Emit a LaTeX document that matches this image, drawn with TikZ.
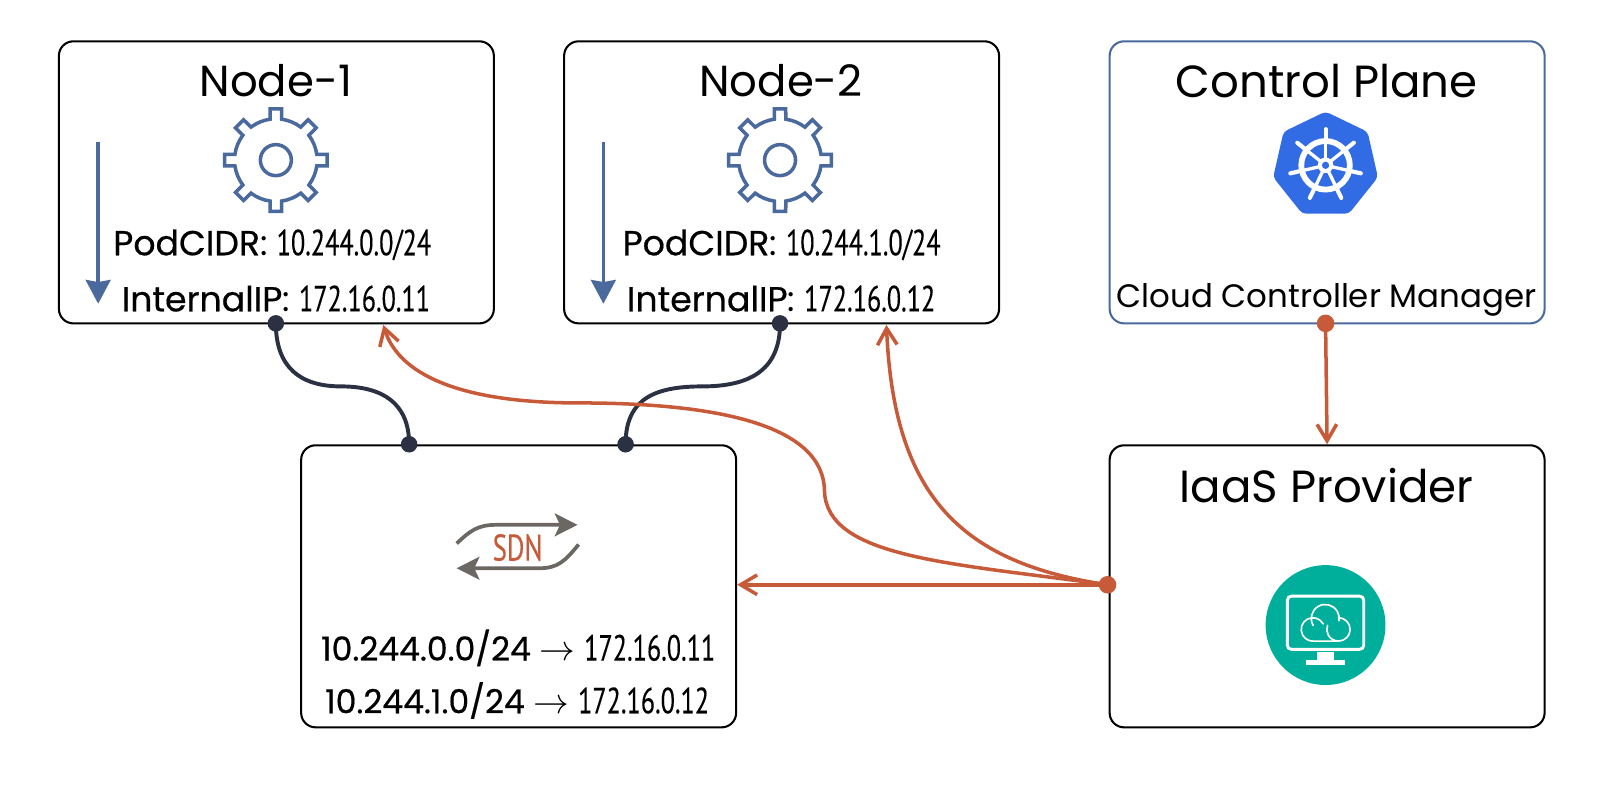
\documentclass[tikz,border=0pt]{standalone}
\usepackage{fontspec}
\usetikzlibrary{arrows.meta,calc}
\setmainfont{Poppins}
\newfontfamily\titlefont{Poppins}
\newfontfamily\medfont[FakeBold=0.5]{Poppins}
\newfontfamily\numfont[FakeStretch=0.72,FakeBold=0.2]{PT Sans}
\definecolor{boxblue}{HTML}{4A6A9D}
\definecolor{rust}{HTML}{C75B39}
\definecolor{ink}{HTML}{2B3142}
\definecolor{kube}{HTML}{326CE5}
\definecolor{teal}{HTML}{00AF9B}
\definecolor{sdngray}{HTML}{6B6864}
\newcommand{\numsize}{\fontsize{17.6}{19}\selectfont}
\tikzset{
  panel/.style={draw=black,line width=1pt,rounded corners=7pt,fill=white,minimum width=210.5pt,minimum height=136.5pt,inner sep=0pt},
  darkdot/.style={circle,fill=ink,minimum size=8pt,inner sep=0pt},
  rustdot/.style={circle,fill=rust,minimum size=8.5pt,inner sep=0pt},
  title/.style={font=\titlefont\fontsize{21.8}{26}\selectfont,inner sep=0pt},
  nodetitle/.style={font=\titlefont\fontsize{21}{26}\selectfont,inner sep=0pt},
  info/.style={inner sep=0pt,font=\fontsize{16.8}{19}\selectfont},
  route/.style={inner sep=0pt,font=\fontsize{16}{19}\selectfont},
  darkline/.style={draw=ink,line width=1.9pt},
  rustline/.style={draw=rust,line width=1.7pt},
  rustarrow/.style={rustline,-{Straight Barb[length=8pt,width=9.5pt,line width=1.7pt]}},
  gearline/.style={draw=boxblue,line width=1.7pt,line join=miter},
  grayarrow/.style={draw=sdngray,line width=1.8pt,-{Stealth[length=11pt,width=11pt,inset=2.5pt]}}
}
\newcommand{\gearicon}[2]{%
  \begin{scope}[shift={(#1,#2)}]
    \draw[gearline]
      (-8:40)
      \foreach \a in {0,45,...,315}{
        -- ({\a-8}:40) -- ({\a-6.3}:50) -- ({\a+6.3}:50) -- ({\a+8}:40)
        arc[start angle={\a+8},end angle={\a+37},radius=40]
      } -- cycle;
    \draw[gearline] (0,0) circle[radius=15];
  \end{scope}}
\begin{document}
\begin{tikzpicture}[x=0.5pt,y=-0.5pt]
\useasboundingbox (0,0) rectangle (1568,780);
% panels
\node[panel] (n1) at (267.5,176.5) {};
\node[panel] (n2) at (756.5,176.5) {};
\node[panel,draw=boxblue] (cp) at (1284.5,176.5) {};
\node[panel] (sdn) at (502,567.5) {};
\node[panel] (iaas) at (1284.5,567.5) {};
% titles
\node[nodetitle] (t1) at (267,78) {Node-1};
\node[nodetitle] (t2) at (756,78) {Node-2};
\node[title] (t3) at (1284,78) {Control Plane};
\node[title] (t4) at (1284,470) {IaaS Provider};
\node[inner sep=0pt,font=\fontsize{15.7}{19}\selectfont] (ccm) at (1284,290) {Cloud Controller Manager};
% node info
\node[info] (p1) at (263.5,237) {{\medfont PodCIDR}: {\numfont\numsize 10.244.0.0/24}};
\node[info] (i1) at (267,289) {{\medfont InternalIP}: {\numfont\numsize 172.16.0.11}};
\node[info] (p2) at (756.5,237) {{\medfont PodCIDR}: {\numfont\numsize 10.244.1.0/24}};
\node[info] (i2) at (756,289) {{\medfont InternalIP}: {\numfont\numsize 172.16.0.12}};
\node[route] (r1) at (501.5,627) {{\medfont 10.244.0.0/24} $\rightarrow$ {\numfont\numsize 172.16.0.11}};
\node[route] (r2) at (500.5,678) {{\medfont 10.244.1.0/24} $\rightarrow$ {\numfont\numsize 172.16.0.12}};
% gears
\gearicon{267}{155}
\gearicon{755}{155}
% blue arrows
\draw[draw=boxblue,line width=1.7pt,-{Stealth[length=11.5pt,width=12pt,inset=1pt]}] (95,137) -- (95,294);
\draw[draw=boxblue,line width=1.7pt,-{Stealth[length=11.5pt,width=12pt,inset=1pt]}] (584,137) -- (584,294);
% kubernetes
\begin{scope}[shift={(1283,160)}]
  \fill[kube,rounded corners=2pt] (-90:52) -- (-38.57:52) -- (12.86:52) -- (64.29:52) -- (115.71:52) -- (167.14:52) -- (218.57:52) -- cycle;
  \draw[white,line width=2.8pt] (0,0) circle[radius=23.5];
  \foreach \a in {-90,-38.57,12.86,64.29,115.71,167.14,218.57}{
    \draw[white,line width=1.6pt] (0,0) -- (\a:24);
    \draw[white,line width=2pt,line cap=round] (\a:24) -- (\a:35);
  }
  \fill[white] (0,0) circle[radius=7.5];
  \fill[kube] (0,0) circle[radius=3.5];
\end{scope}
% monitor
\begin{scope}[shift={(1283,605)}]
  \fill[teal] (0,0) circle[radius=58];
  \draw[white,line width=1.4pt,rounded corners=2pt] (-37,-28) rectangle (37,23.5);
  \fill[white] (-8,26) rectangle (8,34);
  \fill[white] (-18.5,34) rectangle (18.5,39);
  \draw[white,line width=0.8pt,line cap=round]
     (-2.3,-1.1) arc[start angle=-28,end angle=-270,radius=11.3] -- (12.5,15.5)
     arc[start angle=90,end angle=-90,radius=11.3]
     (-12,0.35) arc[start angle=150,end angle=370,radius=13.5]
     (12.5,15.5) arc[start angle=90,end angle=200,radius=11.3];
\end{scope}
% SDN icon
\coordinate (a1) at (442,526);
\coordinate (a2) at (559,508);
\coordinate (b1) at (560,527);
\coordinate (b2) at (442,550);
\draw[grayarrow] (a1) .. controls (455,514) and (462,508) .. (480,508) -- (a2);
\draw[grayarrow] (b1) .. controls (547,543) and (540,550) .. (522,550) -- (b2);
\node[inner sep=0pt,text=rust,font=\numfont\fontsize{18}{20}\selectfont] (sdnl) at (501,530) {SDN};
% dots
\node[darkdot] (d1) at (267,313) {};
\node[darkdot] (d2) at (755,313) {};
\node[darkdot] (d3) at (396,430) {};
\node[darkdot] (d4) at (605.5,430) {};
\coordinate (t1e) at (371,314.5);
\coordinate (t2e) at (858,314.5);
% connectors
\draw[darkline] (d1.center) .. controls (267,355) and (290,374) .. (330,374) .. controls (370,374) and (396,390) .. (d3.center);
\draw[darkline] (d2.center) .. controls (755,355) and (730,374) .. (680,374) .. controls (635,374) and (605.5,385) .. (d4.center);
\node[rustdot] (d5) at (1283,313) {};
\node[rustdot] (d6) at (1072,566) {};
\draw[rustarrow] (d5.center) -- (iaas.north);
\draw[rustarrow] (d6.center) -- (d6.center -| sdn.east);
\draw[rustarrow] (d6.center) .. controls (930,545) and (865,480) .. (t2e);
\draw[rustarrow] (d6.center) .. controls (920,545) and (800,540) .. (798,475) .. controls (797,410) and (690,390) .. (560,390) .. controls (440,390) and (385,360) .. (t1e);
\end{tikzpicture}
\end{document}
